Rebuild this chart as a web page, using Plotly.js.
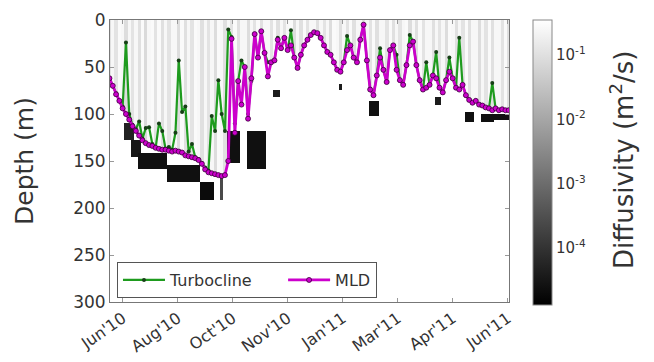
<!DOCTYPE html>
<html><head><meta charset="utf-8">
<script src="https://cdn.plot.ly/plotly-3.0.1.min.js"></script>
<style>html,body{margin:0;padding:0;background:#fff}#chart{width:654px;height:362px}</style>
</head><body><div id="chart"></div>
<script>
// time axis: day offsets from 2010-06-30
const days = [-12,-9,-6,-3,0,3,6,9,12,15,18,21,24,27,30,33,36,39,42,45,48,51,54,57,60,63,66,69,72,75,78,81,84,87,90,93,96,99,102,105,108,111,114,117,120,123,126,129,132,135,138,141,144,147,150,153,156,159,162,165,168,171,174,177,180,183,186,189,192,195,198,201,204,207,210,213,216,219,222,225,228,231,234,237,240,243,246,249,252,255,258,261,264,267,270,273,276,279,282,285,288,291,294,297,300,303,306,309,312,315,318,321,324,327,330,333,336,339,342,345,348,351];
// mixed layer depth (m)
const mld = [62,70,79,86,94,100,106,113,118,123,128,131,133,134,136,137,138,138,139,140,139,140,141,144,145,146,147,149,153,159,162,163,164,165,166,165,150,20,120,65,90,50,105,62,15,40,12,35,60,45,43,21,30,19,32,27,40,51,37,27,21,16,13,14,19,27,34,37,45,53,55,45,32,27,40,45,21,5,43,74,80,59,40,53,66,32,27,53,64,69,48,27,23,48,64,74,72,69,59,62,72,77,64,55,62,72,74,69,80,85,88,86,90,91,93,94,96,94,96,95,96,96];
// turbocline depth (m)
const turbocline = [62,70,78,86,92,24,100,112,116,108,126,115,114,132,136,110,118,137,135,138,120,43,98,92,140,132,146,148,152,157,160,102,118,64,100,118,10,18,110,65,43,50,100,65,15,40,12,35,45,45,43,19,30,19,32,11,40,51,37,27,21,16,13,14,19,27,34,37,45,53,55,45,17,27,40,45,21,5,43,74,80,59,30,53,66,32,27,37,64,69,48,16,23,48,64,74,45,69,59,34,72,77,64,40,62,72,19,69,80,85,88,86,90,91,93,94,67,94,96,95,96,96];
// log10 diffusivity in the mixed layer, per profile column
const kzMixed = [-1.0,-0.6,-0.95,-0.55,-0.6,-1.05,-0.6,-0.95,-0.6,-1.0,
  -0.55,-1.1,-0.6,-0.55,-0.95,-0.55,-1.0,-0.6,-0.95,-0.6,
  -0.6,-1.05,-0.55,-1.0,-0.6,-0.95,-0.55,-0.6,-1.0,-0.6,
  -0.95,-0.6,-1.05,-0.55,-0.6,-1.0,-0.6,-0.95,-0.55,-1.0,
  -0.6,-0.6,-1.05,-0.6,-0.95,-0.55,-1.0,-0.6,-0.6,-0.95,
  -0.55,-1.0,-0.6,-0.95,-0.6,-0.55,-1.05,-0.6,-1.0,-0.55,
  -0.95,-0.6,-0.6,-1.0,-0.6,-0.95,-0.6,-1.05,-0.55,-0.6,
  -1.0,-0.6,-0.95,-0.55,-1.0,-0.6,-0.6,-1.05,-0.6,-0.95,
  -0.55,-1.0,-0.6,-0.6,-0.95,-0.55,-1.0,-0.6,-0.95,-0.6,
  -0.55,-1.05,-0.6,-1.0,-0.55,-0.95,-0.6,-0.6,-1.0,-0.6,
  -0.95,-0.6,-1.05,-0.55,-0.6,-1.0,-0.6,-0.95,-0.55,-1.0,
  -0.6,-0.6,-1.05,-0.6,-0.95,-0.55,-1.0,-0.6,-0.6,-0.95,
  -0.55,-1.0];
// low-diffusivity patches below the mixed layer
const blkStart = [2,8,15,40,72,88,96,114,137,197,224,283,312,327,338];
const blkEnd   = [9,16,40,70,81,92,106,131,141,200,232,290,318,336,351];
const blkTop   = [110,128,143,155,172,165,119,119,74,68,86,83,98,101,100];
const blkBot   = [128,145,157,172,191,191,152,158,82,74,101,90,108,108,106];
const blkLogKz = [-4.3,-4.5,-4.6,-4.6,-4.7,-3.6,-4.6,-4.6,-4.4,-4.4,-4.6,-4.4,-4.6,-4.6,-4.6];

const tickDays = [0,50,100,150,200,250,300,350];
const tickLabels = ["Jun'10","Aug'10","Oct'10","Nov'10","Jan'11","Mar'11","Apr'11","Jun'11"];
const depthTicks = [0,50,100,150,200,250,300];
const cbTickVals = [-4,-3,-2,-1];
const cbTickText = ['10<sup>-4</sup>','10<sup>-3</sup>','10<sup>-2</sup>','10<sup>-1</sup>'];
const seriesNames = ['Turbocline', 'MLD'];

const T0 = Date.UTC(2010,5,30);
function toDate(d){ return new Date(T0 + d*864e5).toISOString().replace('T',' ').slice(0,19); }
const dates = days.map(toDate);

// diffusivity grid
const depthBins = [];
for (let y = 1; y < 200; y += 2) depthBins.push(y);
const z = depthBins.map(function(yc){
  return days.map(function(d, i){
    let v = null;
    if (yc < mld[i]) v = kzMixed[i];
    for (let k = 0; k < blkStart.length; k++) {
      if (d >= blkStart[k] && d <= blkEnd[k] && yc >= blkTop[k] && yc <= blkBot[k]) v = blkLogKz[k];
    }
    return v;
  });
});

const FAM = 'DejaVu Sans, sans-serif';
const traces = [
  {type:'heatmap', x: dates, y: depthBins, z: z, zmin: -4.886, zmax: -0.456,
   colorscale: [[0,'#000000'],[1,'#ffffff']], showscale: true, hoverinfo:'skip',
   colorbar: {x: 1.06, xanchor:'left', y: 1, yanchor:'top', len: 285, lenmode:'pixels',
     thickness: 19, ypad: 0, xpad: 0, outlinecolor:'#888', outlinewidth:1,
     tickvals: cbTickVals, ticktext: cbTickText, ticks:'', ticklabelpad: 4,
     tickfont: {family: FAM, color:'#333', size: 15}}},
  {type:'scatter', mode:'lines+markers', name: seriesNames[0] + '\u00a0\u00a0\u00a0\u00a0\u00a0', x: dates, y: turbocline,
   line:{color:'#1e9b1e', width:2.2}, marker:{color:'#174017', size:4}},
  {type:'scatter', mode:'lines+markers', name: seriesNames[1], x: dates, y: mld,
   line:{color:'#cc00cc', width:2.8}, marker:{color:'#cc00cc', size:5, line:{color:'#3a003a', width:0.8}}}
];

const layout = {
  width: 654, height: 362,
  margin: {l:110, r:145, t:20, b:60},
  paper_bgcolor:'#fff', plot_bgcolor:'#fff',
  font: {family: FAM, color:'#333'},
  showlegend: true,
  legend: {orientation:'h', x: 0.0175, xanchor:'left', y: 0.014, yanchor:'bottom',
    bgcolor:'#fff', bordercolor:'#555', borderwidth:1, font:{family: FAM, color:'#333', size:16},
    itemwidth: 42},
  xaxis: {type:'date', range:[toDate(-11.5), toDate(351.2)],
    tickvals: tickDays.map(toDate), ticktext: tickLabels, tickangle: -35,
    tickfont:{family: FAM, color:'#333', size:16},
    ticks:'inside', ticklen:4, tickcolor:'#999', showgrid:false, zeroline:false,
    showline:true, linecolor:'#777', linewidth:1, mirror:'ticks'},
  yaxis: {range:[300,0], tickvals: depthTicks, ticks:'inside', ticklen:4, tickcolor:'#999',
    tickfont:{family: FAM, color:'#333', size:17}, showgrid:false, zeroline:false,
    showline:true, linecolor:'#777', linewidth:1, mirror:'ticks',
    title:{text:'Depth (m)', standoff: 32, font:{family: FAM, color:'#333', size:25}}},
  annotations: [{text:'Diffusivity (m<sup>2</sup>/s)', textangle:-90, showarrow:false,
    xref:'paper', yref:'paper', x: 1.283, y: 0.5035, xanchor:'center', yanchor:'middle',
    font:{family: FAM, color:'#333', size:26}}]
};
Plotly.newPlot('chart', traces, layout, {staticPlot:true, displayModeBar:false});
</script></body></html>
